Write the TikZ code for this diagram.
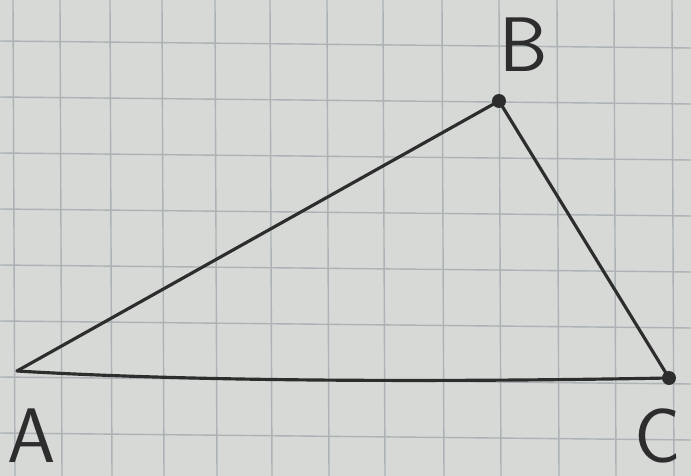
\documentclass[tikz,border=0pt]{standalone}
\usepackage{xcolor}
\usepackage{tikz}
\usetikzlibrary{positioning, calc}

\definecolor{paper}{RGB}{214,217,213}
\definecolor{gridline}{RGB}{172,178,181}
\definecolor{pen}{RGB}{45,45,45}

\tikzset{
  gridrule/.style={gridline, line width=0.8pt},
  side/.style={pen, line width=1.8pt, line cap=round},
  vertexdot/.style={circle, fill=pen, inner sep=0pt, minimum size=0.28cm},
  vertexlabel/.style={pen, font=\sffamily\fontsize{44}{44}\selectfont}
}

\begin{document}
\begin{tikzpicture}[x=0.02cm, y=-0.02cm]
  % paper
  \fill[paper] (0,0) rectangle (691,476);
  \useasboundingbox (0,0) rectangle (691,476);
  % grid
  \foreach \gx in {13,60,110,162,215,270,327,383,442,499,557,614,672}
    \draw[gridrule] (\gx,0) -- (\gx+2,476);
  \foreach \gy in {41,97,153,209,265,321,377,433}
    \draw[gridrule] (0,\gy) -- (691,\gy+7);
  % vertices
  \coordinate (A) at (17,371);
  \node[vertexdot] (B) at (499,101) {};
  \node[vertexdot] (C) at (669,378) {};
  % sides
  \draw[side] (A) -- (B.center);
  \draw[side] (B.center) -- (C.center);
  \draw[side] (A) .. controls (200,382) and (450,382) .. (C.center);
  % labels
  \node[vertexlabel] (lblA) at (32,436) {A};
  \node[vertexlabel] (lblB) at (524,45) {B};
  \node[vertexlabel] (lblC) at (658,436) {C};
\end{tikzpicture}
\end{document}
